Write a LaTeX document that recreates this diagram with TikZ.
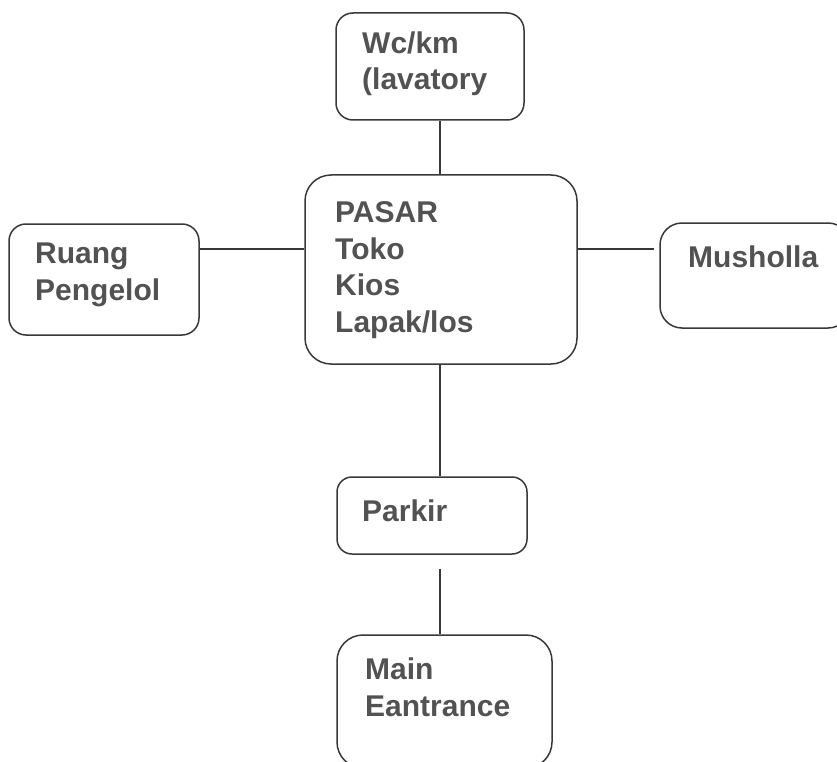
\documentclass[tikz,border=0pt]{standalone}
\usepackage{fontspec}
\setmainfont{Liberation Sans}
\begin{document}
\begin{tikzpicture}[x=1pt,y=-1pt,
  roombox/.style={draw=black!78, line width=1.5pt, rounded corners=#1, inner sep=0pt},
  roombox/.default=17pt,
  label/.style={anchor=base west, align=left, inner sep=0pt, text=black!68,
    font=\fontsize{30}{36.5}\selectfont\bfseries},
  link/.style={draw=black!78, line width=1.5pt}]
\useasboundingbox (0,0) rectangle (837,762);

% room boxes
\node[roombox, minimum width=188pt, minimum height=107pt] (wc) at (430,66.5) {};
\node[roombox=26pt, minimum width=272pt, minimum height=189pt] (pasar) at (441,269.5) {};
\node[roombox, minimum width=190pt, minimum height=111pt] (ruang) at (104,279.5) {};
\node[roombox=22pt, minimum width=190pt, minimum height=105pt] (mush) at (755,275.5) {};
\node[roombox=15pt, minimum width=190pt, minimum height=77pt] (parkir) at (432,515.5) {};
\node[roombox=26pt, minimum width=215pt, minimum height=133pt] (main) at (444.5,701.5) {};

% room names (anchored at the baseline of the last line)
\node[label] (wctxt) at (362,90) {Wc/km\\(lavatory};
\node[label] (pasartxt) at (335,332) {PASAR\\Toko\\Kios\\Lapak/los};
\node[label] (ruangtxt) at (35,300) {Ruang\\Pengelol};
\node[label] (mushtxt) at (688,267) {Musholla};
\node[label] (parkirtxt) at (362,521) {Parkir};
\node[label] (maintxt) at (365,716) {Main\\Eantrance};

% connectors
\coordinate (axis) at (440,0);
\coordinate (row) at (0,249);
\draw[link] (wc.south -| axis) -- (pasar.north -| axis);
\draw[link] (ruang.east |- row) -- (pasar.west |- row);
\draw[link] (pasar.east |- row) -- ([xshift=-5pt]mush.west |- row);
\draw[link] (pasar.south -| axis) -- (parkir.north -| axis);
\draw[link] ([yshift=-14pt]parkir.south -| axis) -- (main.north -| axis);
\end{tikzpicture}
\end{document}
